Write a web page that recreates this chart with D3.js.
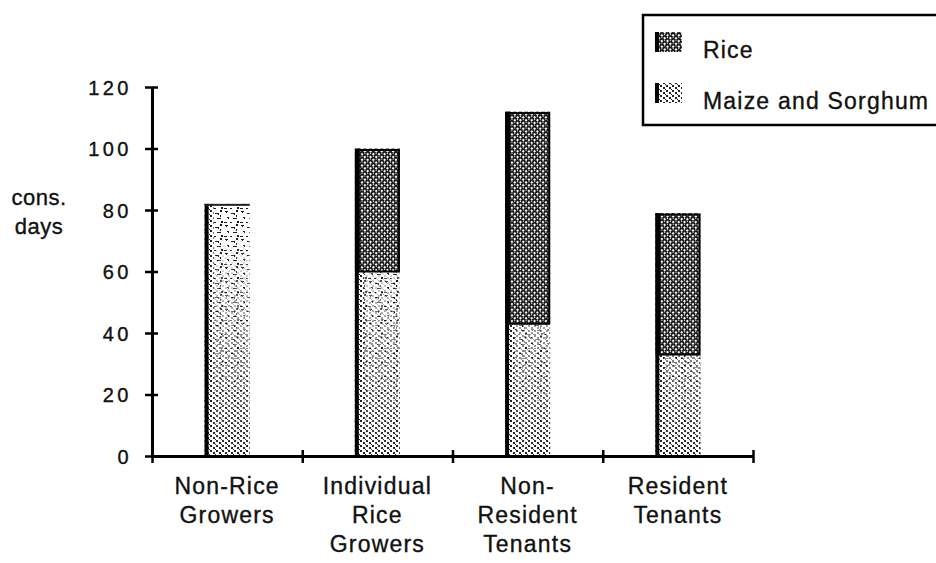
<!DOCTYPE html>
<html>
<head>
<meta charset="utf-8">
<script src="https://cdn.jsdelivr.net/npm/d3@7"></script>
<style>
  body { margin: 0; background: #fff; }
  svg { display: block; }
  text { font-family: "Liberation Sans", Arial, sans-serif; fill: #111; stroke: #111; stroke-width: 0.35px; }
</style>
</head>
<body>
<svg id="chart" width="936" height="563"></svg>
<script>
// data
var categories = ["Non-Rice Growers", "Individual Rice Growers", "Non-Resident Tenants", "Resident Tenants"];
var categoryLines = [["Non-Rice", "Growers"], ["Individual", "Rice", "Growers"], ["Non-", "Resident", "Tenants"], ["Resident", "Tenants"]];
var maize = [82, 60, 43, 33];
var rice = [0, 40, 69, 46];
var yTicks = [0, 20, 40, 60, 80, 100, 120];
var seriesNames = ["Rice", "Maize and Sorghum"];

var svg = d3.select("#chart");

var x = d3.scaleBand()
  .domain(categories)
  .range([152, 753])
  .paddingInner(0.7)
  .paddingOuter(0.35);

var y = d3.scaleLinear()
  .domain([0, 120])
  .range([456, 87]);

// patterns
var defs = svg.append("defs");

var pr = defs.append("pattern")
  .attr("id", "ricePat")
  .attr("patternUnits", "userSpaceOnUse")
  .attr("width", 4).attr("height", 4)
  .attr("patternTransform", "rotate(45)");
pr.append("rect").attr("width", 4).attr("height", 4).attr("fill", "#1a1a1a");
pr.append("rect").attr("x", 0).attr("y", 0).attr("width", 2).attr("height", 2).attr("fill", "#fff");
pr.append("rect").attr("x", 2).attr("y", 2).attr("width", 1).attr("height", 1).attr("fill", "#fff");

// maize speckle tile (short squiggles)
var pm = defs.append("pattern")
  .attr("id", "maizePat")
  .attr("patternUnits", "userSpaceOnUse")
  .attr("width", 16).attr("height", 14);
pm.append("rect").attr("width", 16).attr("height", 14).attr("fill", "#fff");
var specks = [[1,1,3,1],[2,2,1,1],[7,3,4,1],[10,4,1,1],[12,0,2,2],[3,7,2,1],[4,8,1,1],[9,8,4,1],[0,12,3,1],[13,11,2,2],[6,12,2,1],[12,5,1,2]];
pm.selectAll("rect.s").data(specks).enter().append("rect")
  .attr("class", "s")
  .attr("x", function(d) { return d[0]; })
  .attr("y", function(d) { return d[1]; })
  .attr("width", function(d) { return d[2]; })
  .attr("height", function(d) { return d[3]; })
  .attr("fill", "#1a1a1a");

var pm2 = defs.append("pattern")
  .attr("id", "maizeDense")
  .attr("patternUnits", "userSpaceOnUse")
  .attr("width", 6).attr("height", 5);
pm2.append("rect").attr("width", 6).attr("height", 5).attr("fill", "#fff");
pm2.append("rect").attr("x", 0).attr("y", 0).attr("width", 2).attr("height", 2).attr("fill", "#222");
pm2.append("rect").attr("x", 3).attr("y", 2).attr("width", 2).attr("height", 2).attr("fill", "#222");
pm2.append("rect").attr("x", 5).attr("y", 4).attr("width", 1).attr("height", 1).attr("fill", "#222");

// denser towards the baseline
var grad = defs.append("linearGradient")
  .attr("id", "fadeGrad")
  .attr("gradientUnits", "userSpaceOnUse")
  .attr("x1", 0).attr("y1", y(75)).attr("x2", 0).attr("y2", y(0));
grad.append("stop").attr("offset", 0).attr("stop-color", "#fff").attr("stop-opacity", 0);
grad.append("stop").attr("offset", 1).attr("stop-color", "#fff").attr("stop-opacity", 1);
var mask = defs.append("mask").attr("id", "denseMask")
  .attr("maskUnits", "userSpaceOnUse")
  .attr("x", 0).attr("y", 0).attr("width", 936).attr("height", 563);
mask.append("rect").attr("width", 936).attr("height", 563).attr("fill", "url(#fadeGrad)");

// bars
var bars = svg.append("g").attr("class", "bars");
var bw = x.bandwidth();

categories.forEach(function(c, i) {
  var g = bars.append("g");
  var x0 = x(c);
  var mh = y(0) - y(maize[i]);
  // maize and sorghum
  g.append("rect")
    .attr("x", x0).attr("y", y(maize[i]))
    .attr("width", bw).attr("height", mh)
    .attr("fill", "url(#maizePat)");
  g.append("rect")
    .attr("x", x0).attr("y", y(maize[i]))
    .attr("width", bw).attr("height", mh)
    .attr("fill", "url(#maizeDense)")
    .attr("mask", "url(#denseMask)");
  g.append("rect")
    .attr("x", x0 + 4).attr("y", y(maize[i]))
    .attr("width", 5).attr("height", mh)
    .attr("fill", "url(#maizeDense)");
  g.append("rect")
    .attr("x", x0).attr("y", y(maize[i]))
    .attr("width", 4).attr("height", mh)
    .attr("fill", "#000");
  if (rice[i] == 0) {
    g.append("rect")
      .attr("x", x0).attr("y", y(maize[i]))
      .attr("width", bw).attr("height", 2)
      .attr("fill", "#222");
  }
  // rice on top
  if (rice[i] > 0) {
    var top = y(maize[i] + rice[i]);
    var h = y(maize[i]) - top;
    g.append("rect")
      .attr("x", x0).attr("y", top)
      .attr("width", bw).attr("height", h)
      .attr("fill", "url(#ricePat)");
    g.append("rect")
      .attr("x", x0 + 1.5).attr("y", top + 1.5)
      .attr("width", bw - 2.5).attr("height", h - 1.5)
      .attr("fill", "none")
      .attr("stroke", "#000")
      .attr("stroke-width", 2);
    g.append("rect")
      .attr("x", x0).attr("y", top)
      .attr("width", 5).attr("height", h)
      .attr("fill", "#000");
  }
});

// y axis
var yAxis = svg.append("g")
  .attr("transform", "translate(152,0)")
  .call(d3.axisLeft(y).tickValues(yTicks).tickSize(0).tickPadding(0));
yAxis.select(".domain").attr("stroke", "#000").attr("stroke-width", 3);
yAxis.selectAll(".tick line").attr("x1", -7).attr("x2", 6).attr("stroke", "#000").attr("stroke-width", 2.5);
yAxis.selectAll(".tick text")
  .attr("x", -20)
  .attr("dy", "0.36em")
  .style("font-size", "20px")
  .style("letter-spacing", "3.5px")
  .style("font-family", "'Liberation Sans', Arial, sans-serif")
  .style("stroke", "#111")
  .style("stroke-width", "0.35px")
  .attr("fill", "#111");

// x axis
var xLin = d3.scaleLinear().domain([0, categories.length]).range(x.range());
var xAxis = svg.append("g")
  .attr("transform", "translate(0," + y(0) + ")")
  .call(d3.axisBottom(xLin).tickValues(d3.range(categories.length + 1)).tickSize(0).tickFormat(""));
xAxis.select(".domain").attr("stroke", "#000").attr("stroke-width", 3);
xAxis.selectAll(".tick line").attr("y1", -6).attr("y2", 7).attr("stroke", "#000").attr("stroke-width", 2.5);

// category labels
categoryLines.forEach(function(lines, i) {
  var cx = x(categories[i]) + bw / 2;
  var t = svg.append("text")
    .attr("text-anchor", "middle")
    .style("font-size", "23px")
    .style("letter-spacing", "1.2px");
  lines.forEach(function(l, j) {
    t.append("tspan").attr("x", cx).attr("y", 494 + j * 29).text(l);
  });
});

// y title
var yt = svg.append("text").attr("text-anchor", "middle").style("font-size", "22px").style("letter-spacing", "0.5px");
yt.append("tspan").attr("x", 39).attr("y", 205).text("cons.");
yt.append("tspan").attr("x", 39).attr("y", 234).text("days");

// legend
var lg = svg.append("g").attr("class", "legend");
lg.append("rect")
  .attr("x", 643).attr("y", 15)
  .attr("width", 320).attr("height", 110)
  .attr("fill", "#fff").attr("stroke", "#000").attr("stroke-width", 2.5);
var fills = ["url(#ricePat)", "url(#maizeDense)"];
seriesNames.forEach(function(s, i) {
  var yy = 32 + i * 51;
  lg.append("rect").attr("x", 655).attr("y", yy).attr("width", 27).attr("height", 20)
    .attr("fill", fills[i]);
  lg.append("rect").attr("x", 655).attr("y", yy).attr("width", 4).attr("height", 20).attr("fill", "#000");
  lg.append("text").attr("x", 703).attr("y", yy + 26)
    .style("font-size", "23px")
    .style("letter-spacing", "1.2px")
    .text(s);
});
</script>
</body>
</html>
